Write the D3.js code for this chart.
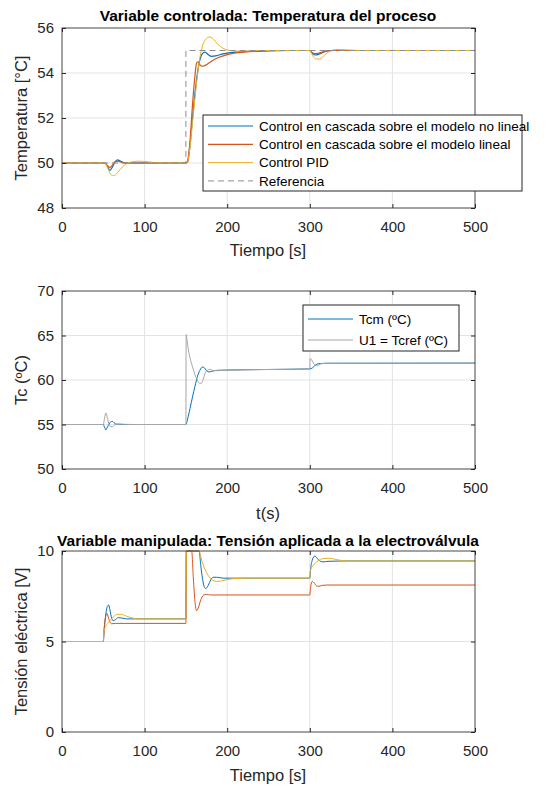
<!DOCTYPE html>
<html>
<head>
<meta charset="utf-8">
<script src="https://cdn.jsdelivr.net/npm/d3@7"></script>
<style>
  html, body { margin: 0; padding: 0; background: #fff; }
  svg { display: block; font-family: "Liberation Sans", Arial, sans-serif; }
</style>
</head>
<body>
<svg id="chart" width="555" height="787"></svg>
<script>
// ---- Panel 1: controlled variable (process temperature), [time s, °C] ----
const tempReferencia = [[0, 50], [150, 50], [150, 55], [500, 55]];
const tempCascadaNoLineal = [[0,50],[52,50],[55,49.85],[58,49.67],[61,49.82],[64,50.04],[67,50.14],[71,50.08],[76,50.01],[85,50],[150,50],[152,50.05],[155,50.8],[158,52.0],[161,53.1],[164,54.0],[167,54.6],[170,54.86],[173,54.93],[177,54.82],[181,54.74],[186,54.76],[195,54.85],[210,54.93],[240,54.98],[270,55],[300,55],[303,54.88],[307,54.8],[312,54.85],[318,54.95],[325,55],[500,55]];
const tempCascadaLineal = [[0,50],[52,50],[55,49.88],[58,49.8],[61,49.9],[64,50.04],[67,50.08],[72,50.03],[80,50],[150,50],[152,50.08],[155,51.0],[158,52.6],[161,53.9],[163,54.45],[165,54.5],[167,54.36],[170,54.3],[175,54.37],[180,54.5],[190,54.7],[200,54.82],[220,54.93],[250,54.98],[280,55],[300,55],[303,54.9],[308,54.86],[314,54.92],[322,54.98],[330,55],[500,55]];
const tempPID = [[0,50],[52,50],[55,49.8],[58,49.55],[61,49.44],[64,49.46],[68,49.6],[73,49.82],[80,50],[86,50.06],[93,50.08],[105,50.05],[120,50],[150,50],[152,50.04],[155,50.7],[158,51.8],[161,52.9],[164,53.9],[167,54.7],[170,55.2],[174,55.5],[178,55.6],[183,55.52],[188,55.3],[195,55.1],[203,55.0],[215,54.97],[240,55],[300,55],[303,54.8],[307,54.63],[312,54.62],[318,54.8],[325,54.98],[333,55.05],[345,55.03],[360,55],[500,55]];

// ---- Panel 2: jacket temperature and its reference, [time s, ºC] ----
const tcm = [[0,55],[50,55],[51.5,54.7],[53,54.4],[55,54.7],[57,55.05],[59,55.3],[61,55.35],[63,55.2],[65,55.05],[70,55.02],[76,55],[150,55],[152,55.6],[155,56.8],[158,58.1],[161,59.3],[164,60.4],[167,61.1],[170,61.45],[172,61.4],[175,61.05],[178,60.9],[182,61.0],[190,61.1],[250,61.18],[300,61.25],[303,61.35],[306,61.6],[309,61.8],[313,61.85],[320,61.88],[500,61.9]];
const u1Tcref = [[0,55],[50,55],[51.5,55.7],[53,56.3],[55,55.7],[57,55.0],[59,54.75],[61,54.75],[63,54.9],[65,55.0],[70,55.05],[76,55.02],[85,55],[150,55],[150.3,65.1],[151.5,64.4],[153,63.4],[155,62.5],[158,61.5],[161,60.6],[164,59.95],[167,59.6],[169,59.65],[171,60.1],[173,60.7],[176,61.1],[179,61.2],[183,61.05],[188,61.05],[200,61.1],[250,61.18],[300,61.25],[300.3,62.45],[302,62.3],[305,61.8],[308,61.6],[311,61.7],[315,61.85],[320,61.88],[500,61.9]];

// ---- Panel 3: manipulated variable (valve voltage), [time s, V] ----
const voltCascadaNoLineal = [[0,5],[50,5],[51,5.6],[53,6.5],[55,6.95],[56.5,7.02],[58,6.75],[60,6.3],[62,6.15],[65,6.22],[68,6.32],[72,6.3],[78,6.25],[150,6.25],[150.5,10],[166,10],[168,9.2],[170,8.5],[172,8.05],[174,7.92],[177,8.1],[180,8.4],[183,8.55],[187,8.55],[195,8.5],[300,8.5],[301,9.0],[303,9.5],[306,9.72],[309,9.6],[312,9.45],[316,9.4],[322,9.43],[340,9.45],[500,9.45]];
const voltCascadaLineal = [[0,5],[50,5],[51,5.7],[53,6.4],[54.5,6.55],[56,6.35],[58,6.08],[60,5.98],[65,6.0],[150,6.0],[150.5,10],[157,10],[159,8.5],[161,7.2],[163,6.7],[165,6.85],[168,7.3],[171,7.55],[175,7.6],[180,7.57],[300,7.57],[301,8.0],[303,8.32],[305,8.25],[308,8.08],[311,8.05],[315,8.1],[320,8.12],[500,8.12]];
const voltPID = [[0,5],[50,5],[50.5,5.5],[53,5.85],[57,6.1],[62,6.35],[67,6.5],[72,6.5],[77,6.42],[85,6.3],[95,6.25],[150,6.25],[150.5,10],[166,10],[169,9.5],[173,9.0],[177,8.65],[182,8.4],[187,8.32],[193,8.35],[200,8.42],[210,8.48],[225,8.5],[300,8.5],[300.5,8.9],[304,9.2],[310,9.45],[316,9.58],[322,9.6],[328,9.57],[335,9.5],[345,9.45],[500,9.45]];

// ---- Axis ticks ----
const timeTicks = [0, 100, 200, 300, 400, 500];
const tempTicks = [48, 50, 52, 54, 56];
const tcTicks = [50, 55, 60, 65, 70];
const voltTicks = [0, 5, 10];

// MATLAB-like colours
const C_BLUE = "#0072BD", C_ORANGE = "#D95319", C_YELLOW = "#EDB120";
const C_AXIS = "#262626", C_GRID = "#e3e3e3";

const svg = d3.select("#chart");
svg.append("rect").attr("width", 555).attr("height", 787).attr("fill", "#fff");

const x = d3.scaleLinear().domain([0, 500]).range([62, 475]);

function panel(cfg) {
  const y = d3.scaleLinear().domain(cfg.yDomain).range([cfg.bottom, cfg.top]);
  const g = svg.append("g");
  const id = "clip" + cfg.key;
  svg.append("clipPath").attr("id", id).append("rect")
    .attr("x", x.range()[0]).attr("y", cfg.top - 1)
    .attr("width", x.range()[1] - x.range()[0]).attr("height", cfg.bottom - cfg.top + 2);

  // grid
  g.append("g").selectAll("line").data(timeTicks.slice(1, -1)).join("line")
    .attr("x1", d => x(d)).attr("x2", d => x(d))
    .attr("y1", cfg.top).attr("y2", cfg.bottom)
    .attr("stroke", C_GRID).attr("stroke-width", 1);
  g.append("g").selectAll("line").data(cfg.yTicks.slice(1, -1)).join("line")
    .attr("x1", x.range()[0]).attr("x2", x.range()[1])
    .attr("y1", d => y(d)).attr("y2", d => y(d))
    .attr("stroke", C_GRID).attr("stroke-width", 1);

  // series
  const line = d3.line().x(d => x(d[0])).y(d => y(d[1])).curve(d3.curveMonotoneX);
  const lines = g.append("g").attr("clip-path", `url(#${id})`);
  cfg.series.forEach(s => {
    lines.append("path").datum(s.data)
      .attr("d", s.dash ? d3.line().x(d => x(d[0])).y(d => y(d[1]))(s.data) : line(s.data))
      .attr("fill", "none").attr("stroke", s.color)
      .attr("stroke-width", s.width || 1)
      .attr("stroke-dasharray", s.dash || null);
  });

  // axes with inward ticks
  const ax = g.append("g").attr("transform", `translate(0,${cfg.bottom})`)
    .call(d3.axisBottom(x).tickValues(timeTicks).tickSize(-4).tickPadding(13));
  const ay = g.append("g").attr("transform", `translate(${x.range()[0]},0)`)
    .call(d3.axisLeft(y).tickValues(cfg.yTicks).tickSize(-4).tickPadding(8));
  g.append("g").attr("transform", `translate(0,${cfg.top})`)
    .call(d3.axisTop(x).tickValues(timeTicks).tickSize(-4).tickFormat(""));
  g.append("g").attr("transform", `translate(${x.range()[1]},0)`)
    .call(d3.axisRight(y).tickValues(cfg.yTicks).tickSize(-4).tickFormat(""));
  g.selectAll(".domain").remove();
  g.selectAll(".tick line").attr("stroke", C_AXIS);
  [ax, ay].forEach(a => a.selectAll("text")
    .attr("fill", C_AXIS).style("font-size", "15px")
    .style("font-family", '"Liberation Sans", Arial, sans-serif'));

  // box
  g.append("rect")
    .attr("x", x.range()[0]).attr("y", cfg.top)
    .attr("width", x.range()[1] - x.range()[0]).attr("height", cfg.bottom - cfg.top)
    .attr("fill", "none").attr("stroke", C_AXIS).attr("stroke-width", 1).attr("stroke-opacity", 0.85);

  // labels
  g.append("text").attr("x", 268).attr("y", cfg.xLabelY)
    .attr("text-anchor", "middle").attr("fill", C_AXIS).style("font-size", "16.5px")
    .text(cfg.xLabel);
  g.append("text")
    .attr("transform", `translate(27,${(cfg.top + cfg.bottom) / 2 + (cfg.yLabelShift || 0)}) rotate(-90)`)
    .attr("text-anchor", "middle").attr("fill", C_AXIS).style("font-size", "16.5px")
    .text(cfg.yLabel);
  if (cfg.title) {
    g.append("text").attr("x", 268).attr("y", cfg.titleY)
      .attr("text-anchor", "middle").attr("fill", "#000")
      .style("font-size", "15.5px").style("font-weight", "bold")
      .text(cfg.title);
  }

  // legend
  if (cfg.legend) {
    const L = cfg.legend;
    const lg = g.append("g");
    lg.append("rect").attr("x", L.x).attr("y", L.y).attr("width", L.w).attr("height", L.h)
      .attr("fill", "#fff").attr("stroke", C_AXIS).attr("stroke-width", 1);
    cfg.series.forEach((s, i) => {
      const cy = L.y + L.first + i * L.step;
      lg.append("line").attr("x1", L.x + 5).attr("x2", L.x + 50)
        .attr("y1", cy).attr("y2", cy)
        .attr("stroke", s.color).attr("stroke-width", s.width || 1)
        .attr("stroke-dasharray", s.dash || null);
      lg.append("text").attr("x", L.x + 56).attr("y", cy).attr("dy", "0.35em")
        .attr("fill", "#000").style("font-size", "13.5px").text(s.name);
    });
  }
}

panel({
  key: "temp", top: 28, bottom: 208, yDomain: [48, 56], yTicks: tempTicks,
  title: "Variable controlada: Temperatura del proceso", titleY: 21,
  xLabel: "Tiempo [s]", xLabelY: 256, yLabel: "Temperatura [°C]",
  series: [
    { name: "Control en cascada sobre el modelo no lineal", data: tempCascadaNoLineal, color: C_BLUE, width: 1.2 },
    { name: "Control en cascada sobre el modelo lineal", data: tempCascadaLineal, color: C_ORANGE, width: 1.2 },
    { name: "Control PID", data: tempPID, color: C_YELLOW, width: 1 },
    { name: "Referencia", data: tempReferencia, color: "#8c8c8c", width: 1, dash: "6,4" }
  ],
  legend: { x: 203, y: 115, w: 319, h: 76, first: 11, step: 18.3 }
});

panel({
  key: "tc", top: 291, bottom: 469, yDomain: [50, 70], yTicks: tcTicks,
  xLabel: "t(s)", xLabelY: 519, yLabel: "Tc (ºC)",
  series: [
    { name: "Tcm (ºC)", data: tcm, color: C_BLUE, width: 1 },
    { name: "U1 = Tcref (ºC)", data: u1Tcref, color: "#a6a6a6", width: 1 }
  ],
  legend: { x: 303, y: 305, w: 156, h: 46, first: 14, step: 21 }
});

panel({
  key: "volt", top: 551, bottom: 732, yDomain: [0, 10], yTicks: voltTicks,
  title: "Variable manipulada: Tensión aplicada a la electroválvula", titleY: 546,
  xLabel: "Tiempo [s]", xLabelY: 781, yLabel: "Tensión eléctrica [V]",
  series: [
    { name: "Control en cascada sobre el modelo no lineal", data: voltCascadaNoLineal, color: C_BLUE, width: 1 },
    { name: "Control en cascada sobre el modelo lineal", data: voltCascadaLineal, color: C_ORANGE, width: 1 },
    { name: "Control PID", data: voltPID, color: C_YELLOW, width: 1 }
  ]
});
</script>
</body>
</html>
